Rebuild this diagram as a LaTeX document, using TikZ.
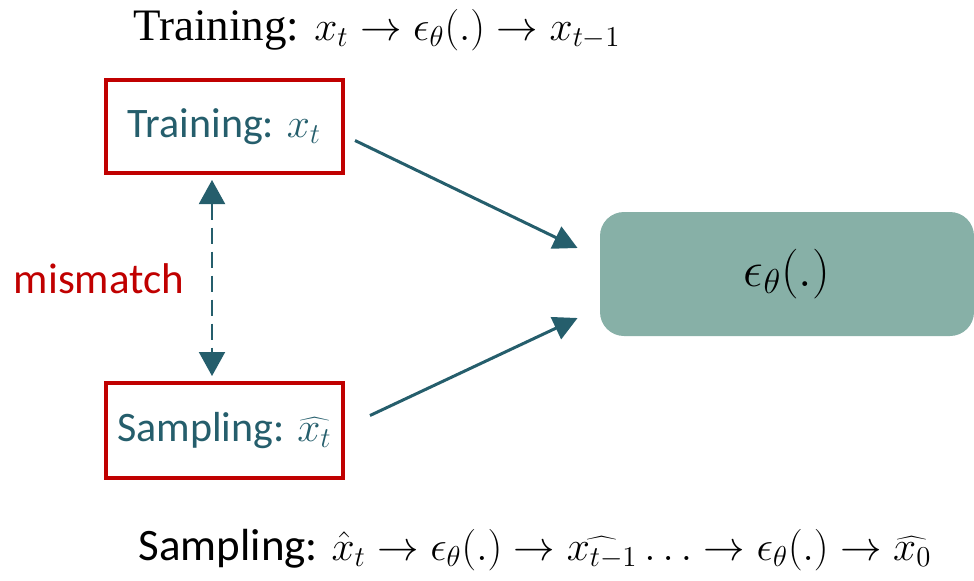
\documentclass[tikz,border=0pt]{standalone}
\usepackage{fontspec}
\setmainfont{Liberation Serif}
\newfontfamily\calfont{Carlito}
\usetikzlibrary{arrows.meta}
\definecolor{boxred}{RGB}{192,0,0}
\definecolor{tealtxt}{RGB}{37,94,108}
\definecolor{sage}{RGB}{135,176,167}
\tikzset{
  redbox/.style={draw=boxred, line width=2pt, minimum width=118.5pt, inner sep=0pt},
  boxtext/.style={text=tealtxt, font=\calfont\fontsize{21}{24}\selectfont},
  arr/.style={draw=tealtxt, line width=1.5pt, -{Triangle[length=12pt,width=12pt]}},
  darr/.style={draw=tealtxt, line width=1pt, dash pattern=on 8pt off 4pt,
    {Triangle[length=12pt,width=13pt]}-{Triangle[length=12pt,width=13pt]}},
  epsbox/.style={fill=sage, rounded corners=12pt, minimum width=187pt, minimum height=62pt, inner sep=0pt},
}
\begin{document}
\begin{tikzpicture}[x=0.5pt,y=-0.5pt]
\useasboundingbox (0,0) rectangle (974,580);
\node[inner sep=0pt, font=\fontsize{22.5}{26}\selectfont] (top) at (377,30) {Training: $x_t \rightarrow \epsilon_\theta(.) \rightarrow x_{t-1}$};
\node[redbox, minimum height=46.5pt, boxtext] (tr) at (224.5,126.5) {Training: $x_t$};
\node[redbox, minimum height=47.5pt, boxtext] (sa) at (224.5,430.5) {Sampling: $\widehat{x_t}$};
\node[epsbox, font=\fontsize{24}{28}\selectfont] (eps) at (787,274) {\raisebox{-2pt}{$\epsilon_\theta(.)$}};
\node[text=boxred, font=\calfont\fontsize{21.5}{24}\selectfont] (mm) at (99,279) {mismatch};
\draw[arr] ([xshift=5pt,yshift=-7pt]tr.east) -- ([xshift=-11pt,yshift=13pt]eps.west);
\draw[arr] ([xshift=12.5pt,yshift=7.5pt]sa.east) -- ([xshift=-11pt,yshift=-22pt]eps.west);
\draw[darr] ([xshift=-6.25pt,yshift=-2.5pt]tr.south) -- ([xshift=-6.25pt,yshift=2.5pt]sa.north);
\node[font=\fontsize{22.5}{26}\selectfont] (bot) at (535,550) {\calfont Sampling: $\hat{x}_t \rightarrow \epsilon_\theta(.) \rightarrow \widehat{x_{t-1}}\ldots\rightarrow \epsilon_\theta(.) \rightarrow \widehat{x_0}$};
\end{tikzpicture}
\end{document}
